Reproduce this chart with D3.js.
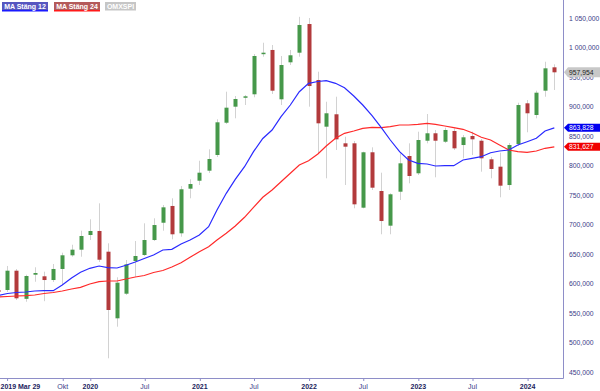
<!DOCTYPE html>
<html><head><meta charset="utf-8">
<script src="https://cdn.jsdelivr.net/npm/d3@7"></script>
<style>body{margin:0;background:#fff}svg{display:block}</style>
</head><body><svg id="c" width="600" height="391"></svg>
<script>
const months = ["2019-03","2019-04","2019-05","2019-06","2019-07","2019-08","2019-09","2019-10","2019-11","2019-12",
"2020-01","2020-02","2020-03","2020-04","2020-05","2020-06","2020-07","2020-08","2020-09","2020-10","2020-11","2020-12",
"2021-01","2021-02","2021-03","2021-04","2021-05","2021-06","2021-07","2021-08","2021-09","2021-10","2021-11","2021-12",
"2022-01","2022-02","2022-03","2022-04","2022-05","2022-06","2022-07","2022-08","2022-09","2022-10","2022-11","2022-12",
"2023-01","2023-02","2023-03","2023-04","2023-05","2023-06","2023-07","2023-08","2023-09","2023-10","2023-11","2023-12",
"2024-01","2024-02","2024-03","2024-04"];
const openV = [589000,589000,621700,574000,614900,612200,605900,624600,647800,657300,
682200,689000,653900,541000,582700,638100,648300,673700,703000,731400,685100,760700,
774200,791200,817800,872500,899700,914900,920700,989000,995800,912200,974900,991200,
1039800,944900,865800,886800,837600,837600,728500,822400,756800,698000,755600,816100,
786800,842000,854600,840300,858500,834700,850000,842000,810500,798000,766900,836400,
905400,885600,926800,966400];
const highV = [594000,629700,624600,614900,627500,620000,633000,652200,665700,689500,
708800,735900,668100,610500,639800,672000,702000,710500,733000,744400,765200,776600,
808100,827400,878300,925100,917800,919500,989000,1008100,1004200,985600,995800,1052000,
1050000,959000,908100,916600,848800,841500,823400,830800,787800,752900,820700,837600,
857300,887300,860200,864100,863000,851700,857300,844900,814400,821700,838100,906400,
911000,926800,975900,971500];
const lowV = [580500,585600,572000,569100,603000,570000,602500,597500,645400,645400,
673700,636400,473200,526800,580500,611500,646600,672000,689500,674900,679300,744400,
766900,787300,814400,870300,880000,902500,915600,984400,921200,902500,970300,984400,
899700,820700,778300,826300,766900,727500,727400,758500,683400,683400,741500,769800,
783900,837600,780000,838100,826300,812200,817800,789500,778300,746100,758500,833000,
856300,880000,916600,928000];
const closeV = [585600,621700,574900,612700,617800,605900,624600,647800,657300,680500,
689000,640300,555100,601400,632500,646600,673700,699100,729100,683400,759700,768600,
787800,811000,873200,898000,912700,917300,985600,991200,926800,970300,986800,1038100,
934700,871500,888500,844400,831900,734200,822400,762400,705900,751200,803700,782200,
843200,854600,842000,860200,829100,847800,844400,812200,794100,765800,834700,902500,
888500,923400,964700,957954];
const ma12 = [579650,583040,584740,585590,587280,587790,587790,597450,609300,619000,
625760,629660,626780,626270,630840,636420,642350,648300,656750,657960,666940,673720,
682200,696250,724570,752880,776600,797960,823390,845790,860160,882700,902540,925080,
939300,942370,943730,939300,931860,917790,902540,884400,864060,843210,823390,809320,
803720,802540,799150,799650,799650,809320,812200,814910,821690,824570,826270,834740,
840330,846090,858470,863828];
const ma24 = [577100,577960,578800,579310,580500,583040,584740,587280,590670,593550,
599150,603050,604230,604230,607620,611010,613550,618640,622030,627960,635250,644400,
653890,662360,673720,685080,697460,712200,729150,746100,758470,772540,786780,800850,
808130,819490,833050,846100,854570,858470,863040,864740,864060,865760,868640,868640,
869830,871520,869830,866950,864060,861350,855590,847790,843210,834740,826270,823390,
822370,824570,829150,831627];
const yTicks = [450000,500000,550000,600000,650000,700000,750000,800000,850000,900000,950000,1000000,1050000];
const yTickLabels = ["450,000","500,000","550,000","600,000","650,000","700,000","750,000","800,000","850,000","900,000","950,000","1 000,000","1 050,000"];
const xTickDates = ["2019-03-29","2019-10-01","2020-01-01","2020-07-01","2021-01-01","2021-07-01","2022-01-01","2022-07-01","2023-01-01","2023-07-01","2024-01-01"];
const xTickLabels = ["2019 Mar 29","Okt","2020","Jul","2021","Jul","2022","Jul","2023","Jul","2024"];
const xTickBold = [true,false,true,false,true,false,true,false,true,false,true];
const legendNames = ["MA Stäng 12","MA Stäng 24","OMXSPI"];

const svg = d3.select("#c");
const plotR = 563, plotB = 378;
const pm = s => { const [a,b] = s.split("-").map(Number); return new Date(Date.UTC(a,b-1,1)); };
const pd = s => { const [a,b,c] = s.split("-").map(Number); return new Date(Date.UTC(a,b-1,c)); };
const x = d3.scaleUtc().domain([new Date(Date.UTC(2019,2,7)), new Date(Date.UTC(2024,3,30))]).range([0, plotR]);
const y = d3.scaleLinear().domain([450000,1050000]).range([372,18]);

const data = months.map((m,i)=>({d:pm(m),o:openV[i],h:highV[i],l:lowV[i],c:closeV[i],m12:ma12[i],m24:ma24[i]}));

svg.append("defs").append("clipPath").attr("id","clip").append("rect").attr("x",0).attr("y",0).attr("width",plotR).attr("height",plotB);
const g = svg.append("g").attr("clip-path","url(#clip)");

// wicks
g.selectAll("line.w").data(data).join("line").attr("class","w")
  .attr("x1",d=>Math.round(x(d.d))+0.5).attr("x2",d=>Math.round(x(d.d))+0.5)
  .attr("y1",d=>y(d.h)).attr("y2",d=>y(d.l))
  .attr("stroke","#d2d2d2").attr("stroke-width",1);
// bodies
g.selectAll("rect.b").data(data).join("rect").attr("class","b")
  .attr("x",d=>Math.round(x(d.d))-1.5).attr("width",4)
  .attr("y",d=>Math.min(y(d.o),y(d.c)))
  .attr("height",d=>Math.max(1.5,Math.abs(y(d.o)-y(d.c))))
  .attr("fill",d=>d.c>=d.o?"#46984a":"#b23a3c");

// MA lines
const lineGen = key => d3.line().x(d=>x(d.d)).y(d=>y(d[key]));
g.append("path").datum(data).attr("d",lineGen("m24")).attr("fill","none").attr("stroke","#ff2a2a").attr("stroke-width",1.2);
g.append("path").datum(data).attr("d",lineGen("m12")).attr("fill","none").attr("stroke","#2a2aff").attr("stroke-width",1.2);

// axes lines
const axisCol = "#8e8ec8";
svg.append("line").attr("x1",plotR+0.5).attr("x2",plotR+0.5).attr("y1",0).attr("y2",plotB+0.5).attr("stroke",axisCol);
svg.append("line").attr("x1",0).attr("x2",plotR+0.5).attr("y1",plotB+0.5).attr("y2",plotB+0.5).attr("stroke",axisCol);

// right axis
const ya = svg.append("g").attr("transform",`translate(${plotR},0)`)
  .call(d3.axisRight(y).tickValues(yTicks).tickSize(0).tickPadding(6).tickFormat((d,i)=>yTickLabels[i]));
ya.select(".domain").remove();
ya.selectAll("text").attr("font-family","'Liberation Sans', Arial, sans-serif").attr("font-size","6.8px").attr("fill","#3c3c88");

// bottom axis
const xa = svg.append("g").attr("transform",`translate(0,${plotB})`)
  .call(d3.axisBottom(x).tickValues(xTickDates.map(pd)).tickSize(3).tickPadding(3).tickFormat((d,i)=>xTickLabels[i]));
xa.select(".domain").remove();
xa.selectAll(".tick line").attr("stroke",axisCol).attr("transform","translate(0.5,0)");
xa.selectAll("text").attr("font-family","'Liberation Sans', Arial, sans-serif").attr("font-size","7px")
  .attr("font-weight",(d,i)=>xTickBold[i]?"bold":"normal")
  .attr("fill",(d,i)=>xTickBold[i]?"#1c1c5c":"#3c3c88")
  .attr("text-anchor",(d,i)=>i===0?"start":"middle")
  .attr("x",(d,i)=>i===0?-x(d):0);

// legend
const legX = [2,54,105], legW = [46,46,31];
const legFill = ["#5656c0","#b45a5a","#c6c6c6"], legLine = ["#1a1aff","#ff1a1a",null];
legendNames.forEach((n,i)=>{
  svg.append("rect").attr("x",legX[i]).attr("y",2).attr("width",legW[i]).attr("height",8.5).attr("fill",legFill[i]);
  if(legLine[i]) svg.append("rect").attr("x",legX[i]).attr("y",10).attr("width",legW[i]).attr("height",1.5).attr("fill",legLine[i]);
  svg.append("text").attr("x",legX[i]+legW[i]/2).attr("y",8.8).attr("text-anchor","middle")
    .attr("font-family","'Liberation Sans', Arial, sans-serif").attr("font-size","7px").attr("font-weight","bold")
    .attr("fill","#fff").text(n);
});

// price tags
const last = data[data.length-1];
const tags = [
  {v:last.c, fill:"#c8c8c8", tc:"#222", h:5},
  {v:last.m12, fill:"#0000f0", tc:"#fff", h:4},
  {v:last.m24, fill:"#f00000", tc:"#fff", h:4}
];
tags.forEach(t=>{
  const cy = y(t.v);
  svg.append("path").attr("d",`M${plotR+1},${cy} L${plotR+5},${cy-t.h} L600,${cy-t.h} L600,${cy+t.h} L${plotR+5},${cy+t.h} Z`).attr("fill",t.fill);
  svg.append("text").attr("x",plotR+6).attr("y",cy+2.5)
    .attr("font-family","'Liberation Sans', Arial, sans-serif").attr("font-size","6.8px").attr("fill",t.tc)
    .text(d3.format(",")(Math.round(t.v)));
});
</script></body></html>
